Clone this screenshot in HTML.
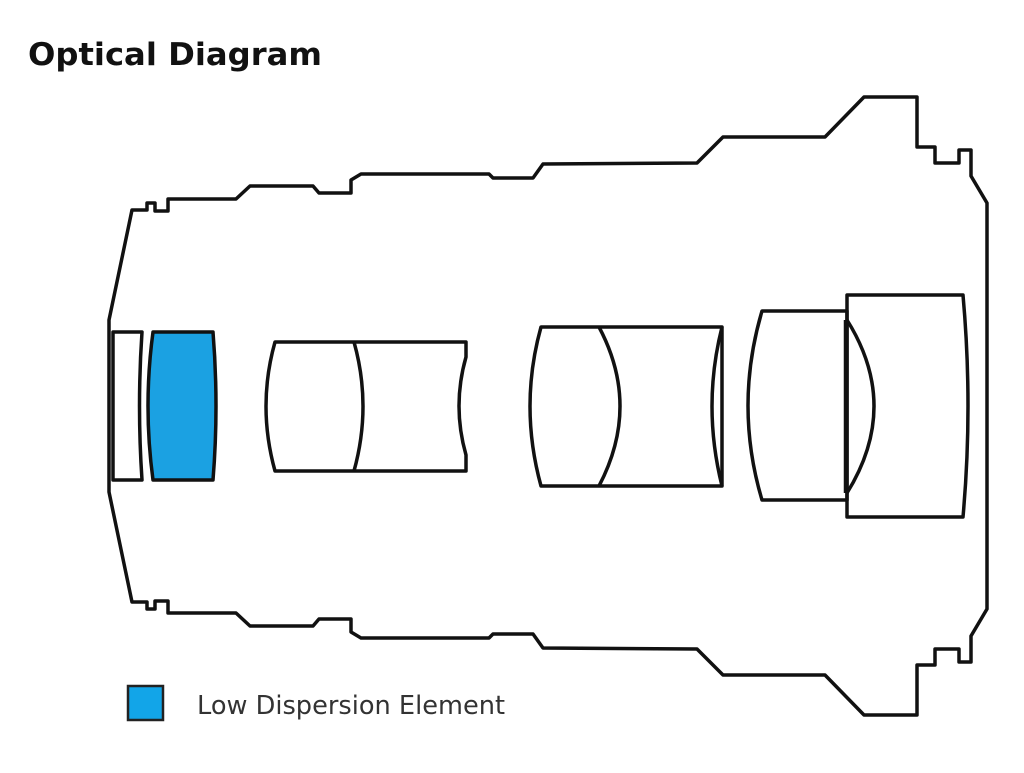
<!DOCTYPE html>
<html><head><meta charset="utf-8"><style>html,body{margin:0;padding:0;background:#fff;}svg{display:block}</style></head>
<body>
<svg width="1024" height="773" viewBox="0 0 1024 773" xmlns="http://www.w3.org/2000/svg">
<rect width="1024" height="773" fill="#fff"/>
<text x="28" y="65" font-family="DejaVu Sans, Liberation Sans, sans-serif" font-weight="bold" font-size="31" fill="#111" textLength="294" lengthAdjust="spacingAndGlyphs">Optical Diagram</text>
<g fill="none" stroke="#111" stroke-width="3.5" stroke-linejoin="round">
<path d="M109,406 L109,320 L132,210 L147,210 L147,203 L155,203 L155,211 L168,211 L168,199 L236,199 L250,186 L313,186 L319,193 L351,193 L351,180 L361,174 L489,174 L493,178 L533,178 L543,164 L697,163 L723,137 L825,137 L864,97 L917,97 L917,147 L935,147 L935,163 L959,163 L959,150 L971,150 L971,176 L987,203 L987,406"/>
<path d="M109,406 L109,320 L132,210 L147,210 L147,203 L155,203 L155,211 L168,211 L168,199 L236,199 L250,186 L313,186 L319,193 L351,193 L351,180 L361,174 L489,174 L493,178 L533,178 L543,164 L697,163 L723,137 L825,137 L864,97 L917,97 L917,147 L935,147 L935,163 L959,163 L959,150 L971,150 L971,176 L987,203 L987,406" transform="matrix(1,0,0,-1,0,812)"/>
<path d="M113,332 L142,332 Q137,406 142,480 L113,480 Z"/>
<path d="M153,332 L213,332 Q219,406 213,480 L153,480 Q143,406 153,332 Z" fill="#1ba1e2"/>
<path d="M275,342 L466,342 L466,357 Q452,406 466,455 L466,471 L275,471 Q257,406 275,342 Z"/>
<path d="M354,342 Q372,406 354,471"/>
<path d="M541,327 L722,327 L722,486 L541,486 Q519,406 541,327 Z"/>
<path d="M599,327 Q641,406 599,486"/>
<path d="M722,327 Q702,406 722,486"/>
<path d="M762,311 L847,311 L847,500 L762,500 Q734,406 762,311 Z"/>
<path d="M847,295 L963,295 Q973,406 963,517 L847,517 Z"/>
<path d="M847,320 Q901,406 847,493"/>
<line x1="845" y1="320" x2="845" y2="493" stroke-width="2.5"/>
</g>
<rect x="128" y="686" width="35" height="34" fill="#12a5e8" stroke="#222" stroke-width="2.5"/>
<text x="197" y="714" font-family="DejaVu Sans, Liberation Sans, sans-serif" font-size="26" fill="#333" textLength="308" lengthAdjust="spacingAndGlyphs">Low Dispersion Element</text>
</svg>
</body></html>
